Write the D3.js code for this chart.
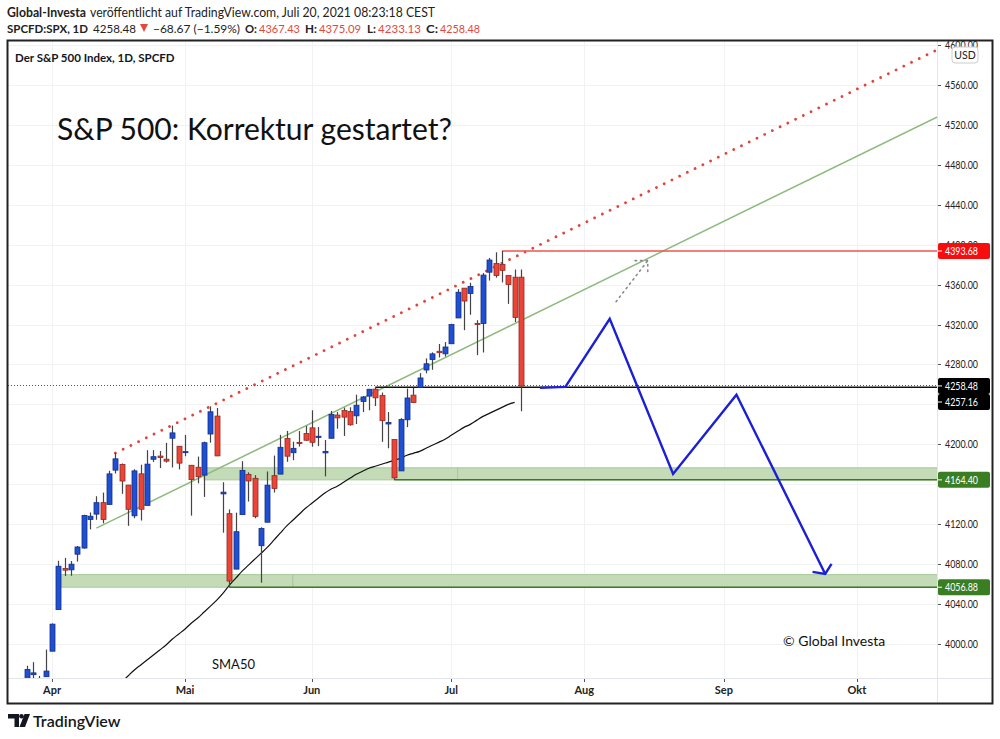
<!DOCTYPE html>
<html>
<head>
<meta charset="utf-8">
<script src="https://cdn.jsdelivr.net/npm/d3@7"></script>
<style>
  body { margin: 0; background: #fff; }
  svg text { font-family: Lato, "Open Sans", sans-serif; }
</style>
</head>
<body>
<script>
// daily candles (SPCFD:SPX)
const candleDates = ["2021-03-25","2021-03-26","2021-03-29","2021-03-30","2021-03-31",
  "2021-04-01","2021-04-05","2021-04-06","2021-04-07","2021-04-08","2021-04-09","2021-04-12","2021-04-13","2021-04-14","2021-04-15","2021-04-16",
  "2021-04-19","2021-04-20","2021-04-21","2021-04-22","2021-04-23","2021-04-26","2021-04-27","2021-04-28","2021-04-29","2021-04-30",
  "2021-05-03","2021-05-04","2021-05-05","2021-05-06","2021-05-07","2021-05-10","2021-05-11","2021-05-12","2021-05-13","2021-05-14",
  "2021-05-17","2021-05-18","2021-05-19","2021-05-20","2021-05-21","2021-05-24","2021-05-25","2021-05-26","2021-05-27","2021-05-28",
  "2021-06-01","2021-06-02","2021-06-03","2021-06-04","2021-06-07","2021-06-08","2021-06-09","2021-06-10","2021-06-11","2021-06-14",
  "2021-06-15","2021-06-16","2021-06-17","2021-06-18","2021-06-21","2021-06-22","2021-06-23","2021-06-24","2021-06-25","2021-06-28",
  "2021-06-29","2021-06-30","2021-07-01","2021-07-02","2021-07-06","2021-07-07","2021-07-08","2021-07-09","2021-07-12","2021-07-13",
  "2021-07-14","2021-07-15","2021-07-16","2021-07-19"];
const opens = [3919.93,3917.12,3969.31,3963.34,3967.25,
  3992.78,4034.44,4075.57,4074.29,4089.95,4096.11,4124.71,4130.10,4141.58,4139.76,4174.14,
  4179.80,4159.18,4128.42,4170.46,4138.78,4185.03,4188.25,4185.14,4206.14,4198.10,
  4191.98,4179.04,4177.06,4169.14,4210.34,4228.29,4150.34,4130.55,4074.99,4129.58,
  4169.92,4165.94,4098.45,4121.97,4168.61,4170.16,4205.94,4191.59,4201.94,4210.77,
  4216.52,4206.82,4191.43,4206.05,4229.34,4233.81,4232.99,4228.56,4242.90,4248.31,
  4255.28,4248.87,4220.37,4204.78,4173.40,4224.61,4249.27,4256.97,4274.45,4284.90,
  4293.21,4290.65,4300.73,4326.60,4356.46,4351.01,4321.07,4321.00,4372.41,4381.07,
  4380.11,4369.02,4367.43,4367.43];
const highs = [3942.08,3978.19,3981.83,3968.01,3994.41,
  4020.63,4083.42,4086.23,4083.13,4098.19,4129.48,4131.76,4148.00,4151.69,4173.49,4191.31,
  4180.81,4159.18,4175.02,4179.57,4194.17,4194.19,4193.35,4201.53,4218.78,4198.10,
  4209.39,4179.04,4187.72,4202.70,4238.04,4236.39,4162.04,4134.73,4131.58,4183.13,
  4171.92,4169.15,4116.93,4172.80,4188.72,4209.52,4213.42,4202.61,4213.38,4218.36,
  4234.12,4217.37,4204.39,4233.45,4232.34,4236.74,4237.09,4249.74,4248.38,4255.59,
  4257.16,4251.89,4232.29,4204.78,4226.24,4255.84,4256.60,4271.28,4286.12,4292.14,
  4300.52,4302.43,4320.66,4355.43,4356.46,4361.88,4324.32,4371.60,4386.68,4392.37,
  4393.68,4369.02,4375.09,4375.09];
const lows = [3888.57,3917.12,3943.25,3944.35,3966.98,
  3992.78,4034.44,4068.14,4068.31,4082.54,4095.51,4114.82,4124.43,4120.87,4139.76,4170.75,
  4150.47,4118.38,4126.01,4123.69,4138.78,4182.36,4176.22,4181.78,4176.81,4174.85,
  4188.03,4128.59,4160.94,4147.33,4201.64,4188.13,4111.53,4056.88,4074.99,4129.58,
  4142.69,4125.99,4061.41,4121.97,4151.72,4170.16,4182.52,4184.11,4197.78,4203.57,
  4197.59,4198.27,4167.93,4206.05,4215.66,4208.41,4218.74,4220.34,4232.25,4234.07,
  4238.35,4202.45,4196.05,4164.40,4173.40,4217.27,4241.43,4256.97,4271.16,4274.67,
  4287.04,4287.96,4300.73,4326.60,4314.37,4329.79,4289.39,4292.00,4364.03,4366.92,
  4362.18,4340.70,4322.53,4233.13];
const closes = [3909.52,3974.54,3971.09,3958.55,3972.89,
  4019.87,4077.91,4073.94,4079.95,4097.17,4128.80,4127.99,4141.59,4124.66,4170.42,4185.47,
  4163.26,4134.94,4173.42,4134.98,4180.17,4187.62,4186.72,4183.18,4211.47,4181.17,
  4192.66,4164.66,4167.59,4201.62,4232.60,4188.43,4152.10,4063.04,4112.50,4173.85,
  4163.29,4127.83,4115.68,4159.12,4155.86,4197.05,4188.13,4195.99,4200.88,4204.11,
  4202.04,4208.12,4192.85,4229.89,4226.52,4227.26,4219.55,4239.18,4247.44,4255.15,
  4246.59,4223.70,4221.86,4166.45,4224.79,4246.44,4241.84,4266.49,4280.70,4290.61,
  4291.80,4297.50,4319.94,4352.34,4343.54,4358.13,4320.82,4369.55,4384.63,4369.21,
  4374.30,4360.03,4327.16,4258.48];

// SMA50, one value per bar starting 2021-04-19
const smaStart = "2021-04-19";
const smaValues = [3962,3968,3974,3979,3984,3989,3994,3999,4005,4010,4015,4021,4026,4032,4038,4044,4051,4059,4066,4073,
  4079,4085,4091,4097,4104,4111,4118,4124,4130,4136,4141,4146,4151,4155,4158,4162,4166,4170,4173,4176,
  4178,4180,4182,4184,4186,4189,4191,4193,4196,4199,4202,4205,4209,4213,4217,4220,4224,4228,4231,4234,
  4237,4240,4242];

// drawings
const resistanceTrend = [["2021-04-16", 4191.31], ["2021-05-07", 4238.04]];   // red dotted
const channelTrend = [["2021-04-13", 4116], ["2021-07-14", 4314.7]];          // green
const zoneUpper = [["2021-05-06", "2021-07-02"], ["2021-07-02", null]];
const zoneUpperRange = [4164.40, 4176.5];
const zoneLower = [["2021-04-05", "2021-05-26"], ["2021-05-26", null]];
const zoneLowerRange = [4056.88, 4069.5];
const projDates = ["2021-07-22","2021-07-28","2021-08-06","2021-08-20","2021-09-03","2021-09-24"];
const projValues = [4256.6, 4257.6, 4325.8, 4170.4, 4249.6, 4070.2];
const projHead = [["2021-09-22", 4072.2], ["2021-09-24", 4070.2], ["2021-09-27", 4080.2]];
const greyArrow = [["2021-08-09", 4342.9], ["2021-08-16", 4384]];
const greyHead = [["2021-08-12", 4384], ["2021-08-16", 4384], ["2021-08-16", 4373]];

const lastPrice = 4258.48;
const priceLabels = [
  {v: 4393.68, text: "4393.68", fill: "#f70d0d", y: null},
  {v: 4258.48, text: "4258.48", fill: "#000", y: null},
  {v: 4257.16, text: "4257.16", fill: "#000", y: 402},
  {v: 4164.40, text: "4164.40", fill: "#3a7d22", y: null},
  {v: 4056.88, text: "4056.88", fill: "#3a7d22", y: null}
];
const yTicks = d3.range(4000, 4601, 40);
const hiddenTicks = [4160, 4240];   // fully covered by price labels
const monthNames = ["Apr","Mai","Jun","Jul","Aug","Sep","Okt"];
const monthStarts = ["2021-04-01","2021-05-03","2021-06-01","2021-07-01","2021-08-02","2021-09-01","2021-10-01"];
const holidays = ["2021-04-02","2021-05-31","2021-07-05","2021-09-06"];

// header pieces: text, start x, end x, bold, red
const headerLine1 = [
  ["Global-Investa", 7, 86, true, false],
  ["veröffentlicht auf TradingView.com, Juli 20, 2021 08:23:18 CEST", 90, 435, false, false]
];
const headerLine2 = [
  ["SPCFD:SPX, 1D", 7, 88, true, false],
  ["4258.48", 93, 136, false, false],
  ["−68.67 (−1.59%)", 153, 240, false, false],
  ["O:", 245, 257, true, false], ["4367.43", 259, 300, false, true],
  ["H:", 305, 317, true, false], ["4375.09", 319, 361, false, true],
  ["L:", 367, 376, true, false], ["4233.13", 378, 421, false, true],
  ["C:", 426, 438, true, false], ["4258.48", 440, 480, false, true]
];

makeChart();

function makeChart() {
  const width = 1000, height = 739;
  const fmt = d3.utcFormat("%Y-%m-%d");
  // trading-day axis: weekdays without exchange holidays
  const days = d3.utcDays(new Date(Date.UTC(2021, 2, 1)), new Date(Date.UTC(2021, 10, 30)))
    .filter(d => d.getUTCDay() % 6 !== 0)
    .map(fmt)
    .filter(s => !holidays.includes(s));
  const idx = s => days.indexOf(s);

  const plot = {left: 8, right: 937, top: 41, bottom: 678};
  const x = d3.scaleLinear()
    .domain([idx("2021-04-01"), idx("2021-07-19")])
    .range([52, 521]);
  const y = d3.scaleLinear().domain([4000, 4600]).range([644, 45]);
  const xd = s => x(idx(s));

  const svg = d3.select("body").append("svg")
    .attr("width", width).attr("height", height);

  // header
  const red = "#e4473c";
  [[headerLine1, 17, 13], [headerLine2, 33, 12]].forEach(([parts, yy, fs]) => {
    svg.append("g").selectAll("text").data(parts).join("text")
      .attr("x", d => d[1]).attr("y", yy)
      .attr("font-size", fs)
      .attr("font-weight", d => d[3] ? 700 : 400)
      .attr("fill", d => d[4] ? red : "#222")
      .attr("textLength", d => d[2] - d[1]).attr("lengthAdjust", "spacingAndGlyphs")
      .text(d => d[0]);
  });
  // down arrow next to the change
  svg.append("path").attr("d", "M140 24 H148 L144 32 Z").attr("fill", red);

  // grid
  const grid = svg.append("g").attr("stroke", "#f1f2f4").attr("stroke-width", 1);
  grid.selectAll("line.v").data(monthStarts).join("line")
    .attr("x1", d => Math.round(xd(d)) + 0.5).attr("x2", d => Math.round(xd(d)) + 0.5)
    .attr("y1", plot.top).attr("y2", plot.bottom);
  grid.selectAll("line.h").data(yTicks).join("line")
    .attr("x1", plot.left).attr("x2", plot.right)
    .attr("y1", d => Math.round(y(d)) + 0.5).attr("y2", d => Math.round(y(d)) + 0.5);

  svg.append("clipPath").attr("id", "clip").append("rect")
    .attr("x", plot.left).attr("y", plot.top)
    .attr("width", plot.right - plot.left).attr("height", plot.bottom - plot.top);
  const g = svg.append("g").attr("clip-path", "url(#clip)");

  // support zones
  function zone(parts, range) {
    parts.forEach(([a, b]) => {
      const x0 = xd(a), x1 = b ? xd(b) : plot.right + 5;
      g.append("rect").attr("x", x0).attr("y", y(range[1]))
        .attr("width", x1 - x0).attr("height", y(range[0]) - y(range[1]))
        .attr("fill", "#c3dbb6").attr("stroke", "#a8c99a").attr("stroke-width", 1);
    });
  }
  zone(zoneUpper, zoneUpperRange);
  zone(zoneLower, zoneLowerRange);

  // trend lines (extended to the right edge)
  function ray(pts) {
    const [[d0, v0], [d1, v1]] = pts;
    const i0 = idx(d0), i1 = idx(d1);
    const slope = (v1 - v0) / (i1 - i0);
    const iEnd = x.invert(plot.right + 10);
    return [[x(i0), y(v0)], [x(iEnd), y(v0 + slope * (iEnd - i0))]];
  }
  g.append("path").attr("d", d3.line()(ray(channelTrend)))
    .attr("stroke", "#8fbb7e").attr("stroke-width", 1.5).attr("fill", "none");
  g.append("path").attr("d", d3.line()(ray(resistanceTrend)))
    .attr("stroke", "#e0453b").attr("stroke-width", 2.8).attr("fill", "none")
    .attr("stroke-dasharray", "0.01 8.6").attr("stroke-linecap", "round");

  // horizontal levels
  const hline = (d, v, color, w) => g.append("line")
    .attr("x1", xd(d)).attr("x2", plot.right).attr("y1", y(v)).attr("y2", y(v))
    .attr("stroke", color).attr("stroke-width", w);
  hline("2021-07-14", 4393.68, "#f0544c", 1.5);
  hline("2021-06-18", 4164.40, "#3d7a25", 1.5);
  hline("2021-05-12", 4056.88, "#3d7a25", 1.5);
  g.append("line").attr("x1", plot.left).attr("x2", plot.right)
    .attr("y1", Math.round(y(lastPrice)) - 0.5).attr("y2", Math.round(y(lastPrice)) - 0.5)
    .attr("stroke", "#555").attr("stroke-dasharray", "1 2");
  hline("2021-06-15", 4257.16, "#111", 1.3);

  // SMA50
  const i0 = idx(smaStart);
  g.append("path")
    .attr("d", d3.line().curve(d3.curveMonotoneX)(smaValues.map((v, i) => [x(i0 + i), y(v)])))
    .attr("stroke", "#111").attr("stroke-width", 1.2).attr("fill", "none");

  // candles
  const bw = 5;
  const candles = g.append("g").selectAll("g").data(candleDates).join("g");
  candles.append("line")
    .attr("x1", d => Math.round(xd(d)) + 0.5).attr("x2", d => Math.round(xd(d)) + 0.5)
    .attr("y1", (d, i) => y(highs[i])).attr("y2", (d, i) => y(lows[i]))
    .attr("stroke", "#444").attr("stroke-width", 1.2);
  candles.append("rect")
    .attr("x", d => Math.round(xd(d)) + 0.5 - bw / 2)
    .attr("y", (d, i) => y(Math.max(opens[i], closes[i])))
    .attr("width", bw)
    .attr("height", (d, i) => Math.max(1, Math.abs(y(opens[i]) - y(closes[i]))))
    .attr("fill", (d, i) => closes[i] >= opens[i] ? "#1f4fd3" : "#ec4538")
    .attr("stroke", (d, i) => closes[i] >= opens[i] ? "#142f86" : "#8c2a22")
    .attr("stroke-width", 0.8);

  // projection
  g.append("path")
    .attr("d", d3.line()(projDates.map((d, i) => [xd(d), y(projValues[i])])))
    .attr("stroke", "#1b1fd6").attr("stroke-width", 2.4).attr("fill", "none").attr("stroke-linejoin", "miter");
  g.append("path")
    .attr("d", d3.line()(projHead.map(([d, v]) => [xd(d), y(v)])))
    .attr("stroke", "#1b1fd6").attr("stroke-width", 2.4).attr("fill", "none");
  [greyArrow, greyHead].forEach(pts => g.append("path")
    .attr("d", d3.line()(pts.map(([d, v]) => [xd(d), y(v)])))
    .attr("stroke", "#8a8a8a").attr("stroke-width", 1.6).attr("fill", "none")
    .attr("stroke-dasharray", "1.5 4").attr("stroke-linecap", "round"));

  // annotations
  svg.append("text").attr("x", 57).attr("y", 140).attr("font-size", 31)
    .attr("fill", "#111").attr("textLength", 395).attr("lengthAdjust", "spacingAndGlyphs")
    .text("S&P 500: Korrektur gestartet?");
  svg.append("text").attr("x", 783).attr("y", 646).attr("font-size", 14).attr("fill", "#111")
    .text("© Global Investa");
  svg.append("text").attr("x", 212).attr("y", 669).attr("font-size", 13).attr("fill", "#111")
    .text("SMA50");
  svg.append("text").attr("x", 15).attr("y", 62).attr("font-size", 11.5).attr("font-weight", 700)
    .attr("fill", "#131722").text("Der S&P 500 Index, 1D, SPCFD");

  // right price axis
  const ax = svg.append("g").attr("font-size", 11).attr("fill", "#222");
  ax.selectAll("line").data(yTicks).join("line")
    .attr("x1", plot.right).attr("x2", plot.right + 4)
    .attr("y1", d => Math.round(y(d)) + 0.5).attr("y2", d => Math.round(y(d)) + 0.5)
    .attr("stroke", "#555");
  ax.selectAll("text").data(yTicks.filter(t => !hiddenTicks.includes(t))).join("text")
    .attr("x", 945).attr("y", d => y(d) + 4)
    .attr("textLength", 33).attr("lengthAdjust", "spacingAndGlyphs")
    .text(d => d3.format(".2f")(d));
  svg.append("rect").attr("x", 952).attr("y", 47).attr("width", 26).attr("height", 16).attr("rx", 3)
    .attr("fill", "#fff").attr("stroke", "#ccc");
  svg.append("text").attr("x", 965).attr("y", 59).attr("text-anchor", "middle")
    .attr("font-size", 10.5).attr("fill", "#222").text("USD");

  const pl = svg.append("g").selectAll("g").data(priceLabels).join("g")
    .attr("transform", d => `translate(938,${d.y ?? y(d.v)})`);
  pl.append("rect").attr("x", 0).attr("y", -8).attr("width", 52).attr("height", 16).attr("rx", 2)
    .attr("fill", d => d.fill);
  pl.append("line").attr("x1", 0).attr("x2", 4).attr("stroke", "#fff");
  pl.append("text").attr("x", 7).attr("y", 4).attr("font-size", 11).attr("fill", "#fff")
    .attr("textLength", 33).attr("lengthAdjust", "spacingAndGlyphs")
    .text(d => d.text);

  // bottom time axis
  const bx = svg.append("g");
  bx.selectAll("line").data(monthStarts).join("line")
    .attr("x1", d => Math.round(xd(d)) + 0.5).attr("x2", d => Math.round(xd(d)) + 0.5)
    .attr("y1", plot.bottom).attr("y2", plot.bottom + 4).attr("stroke", "#555");
  bx.selectAll("text").data(monthStarts).join("text")
    .attr("x", d => xd(d)).attr("y", 694).attr("text-anchor", "middle")
    .attr("font-size", 11).attr("font-weight", 700).attr("fill", "#222")
    .text((d, i) => monthNames[i]);

  // frame
  svg.append("line").attr("x1", plot.right + 0.5).attr("x2", plot.right + 0.5)
    .attr("y1", plot.top).attr("y2", 704).attr("stroke", "#e3e5ea");
  svg.append("line").attr("x1", plot.left).attr("x2", 993)
    .attr("y1", plot.bottom + 0.5).attr("y2", plot.bottom + 0.5).attr("stroke", "#e3e5ea");
  svg.append("rect").attr("x", 7.5).attr("y", 40.5).attr("width", 985).attr("height", 663)
    .attr("fill", "none").attr("stroke", "#222").attr("stroke-width", 2);

  // TradingView logo
  const logo = svg.append("g").attr("fill", "#131722");
  logo.append("path").attr("d", "M8 714 H19 V727 H14.5 V718.5 H8 Z");
  logo.append("circle").attr("cx", 21.5).attr("cy", 716.3).attr("r", 2.3);
  logo.append("path").attr("d", "M24.5 714 H30 L25 727 H19.5 Z");
  svg.append("text").attr("x", 33).attr("y", 727).attr("font-size", 16).attr("font-weight", 600)
    .attr("fill", "#131722").text("TradingView");

  return svg.node();
}
</script>
</body>
</html>
